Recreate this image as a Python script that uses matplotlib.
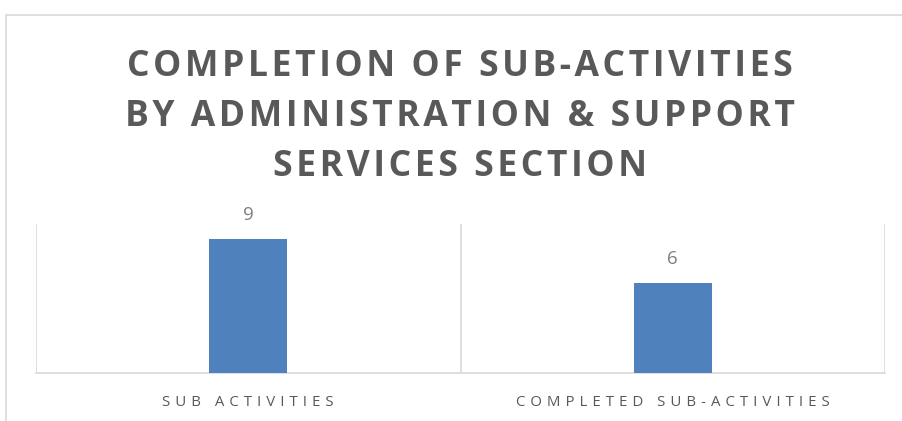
import matplotlib
matplotlib.use("Agg")
import matplotlib.pyplot as plt
from matplotlib.patches import Rectangle
from matplotlib.ticker import FixedLocator

categories = ["SUB ACTIVITIES", "COMPLETED SUB-ACTIVITIES"]
values = [9, 6]
title_lines = ["COMPLETION OF SUB-ACTIVITIES",
               "BY ADMINISTRATION & SUPPORT",
               "SERVICES SECTION"]

FAM = ["Open Sans", "DejaVu Sans"]
plt.rcParams['font.family'] = FAM

def spaced(s, sep):
    return sep.join(list(s))

W, H = 902, 421
fig = plt.figure(figsize=(W / 100, H / 100), dpi=100)
fig.patch.set_facecolor("white")

# outer chart border (cropped on right and bottom)
fig.patches.append(Rectangle((5.5 / W, -0.1), 1.2, (H - 14.5) / H + 0.1,
                             transform=fig.transFigure, fill=False,
                             edgecolor="#d9d9d9", linewidth=1.2))

ax = fig.add_axes([36 / W, (H - 372.7) / H, (885 - 36) / W, (372.7 - 224) / H])
x = list(range(len(categories)))
ax.bar(x, values, width=0.184, color="#4F81BD", zorder=3)
ax.set_xlim(-0.5, len(categories) - 0.5)
ax.set_ylim(0, 10)
for xi, v in zip(x, values):
    ax.annotate(str(v), (xi, v), xytext=(0, 11), textcoords="offset points",
                ha="center", va="bottom", fontsize=13.5, color="#7f7f7f")

for s in ["top", "right", "left"]:
    ax.spines[s].set_visible(False)
ax.spines["bottom"].set_color("#d9d9d9")
ax.spines["bottom"].set_linewidth(1.2)
ax.set_yticks([])
ax.set_xticks(x)
ax.set_xticklabels([spaced(c, "\u2009\u2009") for c in categories],
                   fontsize=10.8, color="#595959")
ax.tick_params(axis="x", length=0, pad=16)
ax.xaxis.set_minor_locator(FixedLocator([-0.5 + i for i in range(len(categories) + 1)]))
ax.grid(True, which="minor", axis="x", color="#d9d9d9", linewidth=1.2, zorder=0)
ax.tick_params(axis="x", which="minor", length=0)

ys = [76, 126, 176]
for line, yb in zip(title_lines, ys):
    fig.text(460 / W, (H - yb) / H, spaced(line, "\u200a"), ha="center", va="baseline",
             fontsize=25.6, fontweight="bold", color="#595959")

fig.savefig("out.png", dpi=100)
